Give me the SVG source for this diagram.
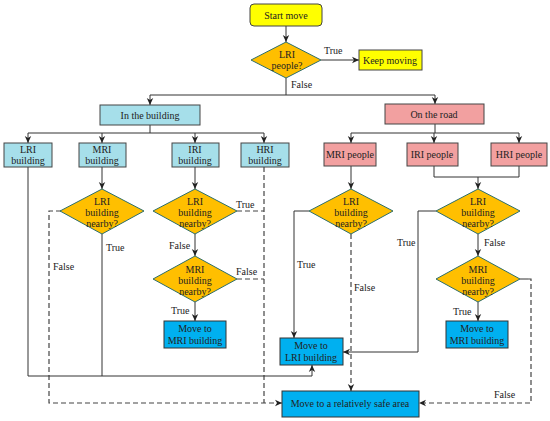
<svg xmlns="http://www.w3.org/2000/svg" width="550" height="421" viewBox="0 0 550 421" font-family="'Liberation Serif', 'Times New Roman', serif">
<style>
text{font-family:'Liberation Serif','Times New Roman',serif;font-size:10px;fill:#222;text-anchor:middle}
.lbl{text-anchor:start}
.c{fill:none;stroke:#333;stroke-width:1}
.d{fill:none;stroke:#444;stroke-width:1.2;stroke-dasharray:5,3}
.dia{fill:#ffbf00;stroke:#2d6e6a;stroke-width:1}
.yel{fill:#ffff00;stroke:#444;stroke-width:1}
.lb{fill:#a6dfea;stroke:#444;stroke-width:1}
.pk{fill:#f2a0a0;stroke:#444;stroke-width:1}
.bl{fill:#00b0f0;stroke:#333;stroke-width:1}
</style>
<defs>
<marker id="ah" markerWidth="8" markerHeight="8" refX="7" refY="4" orient="auto" markerUnits="userSpaceOnUse">
<path d="M0,0.8 L7,4 L0,7.2 L2,4 Z" fill="#222"/>
</marker>
</defs>
<rect width="550" height="421" fill="#fff"/>

<g id="connectors">
<path class="c" d="M286,26 V42" marker-end="url(#ah)"/>
<path class="c" d="M321,60 H359" marker-end="url(#ah)"/>
<path class="c" d="M286,78 V95 M150,95 H435"/>
<path class="c" d="M150,95 V105" marker-end="url(#ah)"/>
<path class="c" d="M435,95 V104" marker-end="url(#ah)"/>
<path class="c" d="M150,125 V133 M28,133 H264"/>
<path class="c" d="M28,133 V143" marker-end="url(#ah)"/>
<path class="c" d="M102,133 V143" marker-end="url(#ah)"/>
<path class="c" d="M195,133 V143" marker-end="url(#ah)"/>
<path class="c" d="M264,133 V143" marker-end="url(#ah)"/>
<path class="c" d="M435,124 V133 M351,133 H519"/>
<path class="c" d="M351,133 V143" marker-end="url(#ah)"/>
<path class="c" d="M434,133 V143" marker-end="url(#ah)"/>
<path class="c" d="M519,133 V143" marker-end="url(#ah)"/>
<path class="c" d="M102,167 V189" marker-end="url(#ah)"/>
<path class="c" d="M195,167 V189" marker-end="url(#ah)"/>
<path class="c" d="M195,234 V256" marker-end="url(#ah)"/>
<path class="c" d="M195,302 V321" marker-end="url(#ah)"/>
<path class="d" d="M237,211 H264"/>
<path class="d" d="M237,279 H264"/>
<path class="d" d="M264,167 V403"/>
<path class="d" d="M61,211 H49 V403 H282" marker-end="url(#ah)"/>
<path class="c" d="M28,167 V376 H312 V365" marker-end="url(#ah)"/>
<path class="c" d="M102,234 V376"/>
<path class="c" d="M351,166 V189" marker-end="url(#ah)"/>
<path class="c" d="M309,211 H294 V338" marker-end="url(#ah)"/>
<path class="d" d="M351,234 V391" marker-end="url(#ah)"/>
<path class="c" d="M434,166 V177 H519 V166"/>
<path class="c" d="M478,177 V189" marker-end="url(#ah)"/>
<path class="c" d="M436,211 H418 V352 H343" marker-end="url(#ah)"/>
<path class="c" d="M478,234 V256" marker-end="url(#ah)"/>
<path class="c" d="M478,302 V321" marker-end="url(#ah)"/>
<path class="c" d="M520,279 H528"/>
<path class="d" d="M528,279 H531 V403 H419" marker-end="url(#ah)"/>
<text class="lbl" x="324" y="54">True</text>
<text class="lbl" x="291" y="88">False</text>
<text class="lbl" x="169" y="249">False</text>
<text class="lbl" x="171" y="314">True</text>
<text class="lbl" x="236" y="208">True</text>
<text class="lbl" x="236" y="275">False</text>
<text class="lbl" x="53" y="270">False</text>
<text class="lbl" x="106" y="251">True</text>
<text class="lbl" x="297" y="268">True</text>
<text class="lbl" x="354" y="291">False</text>
<text class="lbl" x="397" y="246">True</text>
<text class="lbl" x="484" y="246">False</text>
<text class="lbl" x="453" y="315">True</text>
<text class="lbl" x="494" y="398">False</text>
</g>

<g id="start"><rect class="yel" x="250" y="4" width="72" height="22" rx="4"/><text x="286" y="19">Start move</text></g>
<g id="d-lri-people"><polygon class="dia" points="286,42 321,60 286,78 251,60"/><text x="287" y="58">LRI</text><text x="287" y="69">people?</text></g>
<g id="keep-moving"><rect class="yel" x="359" y="50" width="63" height="20"/><text x="390" y="64">Keep moving</text></g>
<g id="in-building"><rect class="lb" x="100" y="105" width="100" height="20"/><text x="150" y="119">In the building</text></g>
<g id="on-road"><rect class="pk" x="385" y="104" width="99" height="20"/><text x="434" y="118">On the road</text></g>

<g id="lri-building"><rect class="lb" x="4" y="143" width="48" height="24"/><text x="28" y="153">LRI</text><text x="28" y="164">building</text></g>
<g id="mri-building"><rect class="lb" x="79" y="143" width="47" height="24"/><text x="102" y="153">MRI</text><text x="102" y="164">building</text></g>
<g id="iri-building"><rect class="lb" x="172" y="143" width="47" height="24"/><text x="195" y="153">IRI</text><text x="195" y="164">building</text></g>
<g id="hri-building"><rect class="lb" x="241" y="143" width="48" height="24"/><text x="265" y="153">HRI</text><text x="265" y="164">building</text></g>

<g id="mri-people"><rect class="pk" x="324" y="143" width="52" height="23"/><text x="350" y="158">MRI people</text></g>
<g id="iri-people"><rect class="pk" x="407" y="143" width="51" height="23"/><text x="432" y="158">IRI people</text></g>
<g id="hri-people"><rect class="pk" x="491" y="143" width="56" height="23"/><text x="519" y="158">HRI people</text></g>

<g id="d-b1"><polygon class="dia" points="102,189 144,211 102,234 60,211"/><text x="102" y="205">LRI</text><text x="102" y="216">building</text><text x="102" y="227">nearby?</text></g>
<g id="d-b2"><polygon class="dia" points="195,189 237,211 195,234 153,211"/><text x="195" y="205">LRI</text><text x="195" y="216">building</text><text x="195" y="227">nearby?</text></g>
<g id="d-b3"><polygon class="dia" points="195,256 237,279 195,302 153,279"/><text x="195" y="273">MRI</text><text x="195" y="284">building</text><text x="195" y="295">nearby?</text></g>
<g id="d-r1"><polygon class="dia" points="351,189 393,211 351,234 309,211"/><text x="351" y="205">LRI</text><text x="351" y="216">building</text><text x="351" y="227">nearby?</text></g>
<g id="d-r2"><polygon class="dia" points="478,189 520,211 478,234 436,211"/><text x="478" y="205">LRI</text><text x="478" y="216">building</text><text x="478" y="227">nearby?</text></g>
<g id="d-r3"><polygon class="dia" points="478,256 520,279 478,302 436,279"/><text x="478" y="273">MRI</text><text x="478" y="284">building</text><text x="478" y="295">nearby?</text></g>

<g id="move-mri-1"><rect class="bl" x="164" y="321" width="62" height="27"/><text x="195" y="332">Move to</text><text x="195" y="344">MRI building</text></g>
<g id="move-mri-2"><rect class="bl" x="446" y="321" width="62" height="27"/><text x="477" y="332">Move to</text><text x="477" y="344">MRI building</text></g>
<g id="move-lri"><rect class="bl" x="280" y="338" width="63" height="27"/><text x="311" y="349">Move to</text><text x="311" y="361">LRI building</text></g>
<g id="safe-area"><rect class="bl" x="282" y="391" width="137" height="26"/><text x="350" y="407">Move to a relatively safe area</text></g>
</svg>
